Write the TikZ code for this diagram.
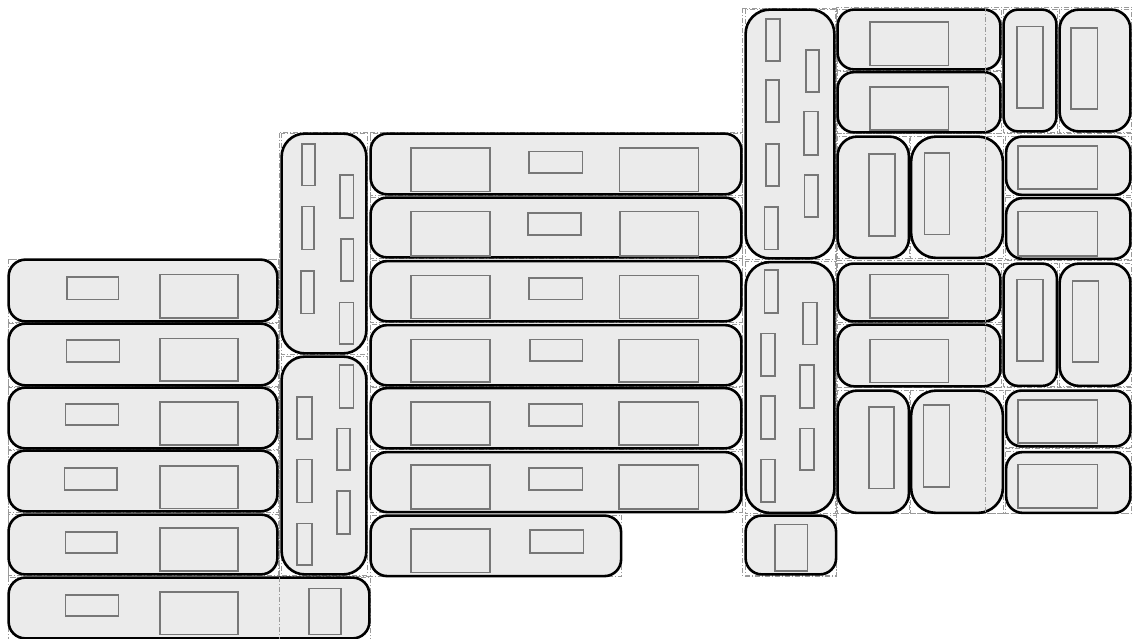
\documentclass[tikz,border=0pt]{standalone}
\definecolor{boxfill}{HTML}{EBEBEB}
\definecolor{innerline}{HTML}{777777}
\definecolor{cellgrey}{HTML}{9A9A9A}
\tikzset{
  cellline/.style={draw=cellgrey, line width=0.8pt, dash pattern=on 5pt off 2pt on 1pt off 2pt},
  boxstyle/.style={draw=black, fill=boxfill, line width=2.6pt},
  innerstyle/.style={draw=innerline, line width=1.6pt},
}
\newcommand\cellpass{%
  \def\myBox##1##2##3##4{\draw[cellline] (##1,##2) rectangle (##3,##4);}%
  \def\myIn##1##2##3##4{}}
\newcommand\boxpass{%
  \def\myBox##1##2##3##4{\pgfmathsetmacro\myRad{0.27*min(##3-##1,##4-##2)}%
    \draw[boxstyle, rounded corners=\myRad pt] (##1+0.6,##2+0.6) rectangle (##3-0.6,##4-0.6);}%
  \def\myIn##1##2##3##4{\draw[innerstyle] (##1,##2) rectangle (##3,##4);}}
\newcommand\allboxes{%
% left column
\myBox{8}{259}{278}{322}\myIn{66.7}{276.7}{118.3}{299.3}\myIn{160}{274.3}{237.7}{317.7}
\myBox{8}{323}{278}{386}\myIn{66.3}{340}{119.3}{362}\myIn{160}{338.3}{237.7}{381}
\myBox{8}{387}{278}{449}\myIn{65.3}{404}{118.3}{425}\myIn{160}{402}{237.7}{445}
\myBox{8}{450}{278}{512}\myIn{64.3}{468}{117}{490}\myIn{160}{465.7}{237.7}{508.3}
\myBox{8}{514}{278}{575}\myIn{65.3}{531.7}{117}{552.7}\myIn{160}{527.7}{237.7}{571}
\myBox{8}{577}{370}{639}\myIn{65.3}{595}{118.3}{616}\myIn{160}{591.7}{237.7}{634.3}\myIn{308.7}{588.3}{340.7}{634.3}
% column 2
\myBox{281}{133}{367}{354}\myIn{301.7}{144}{315}{185.7}\myIn{301.7}{206.7}{314}{249.3}\myIn{300.7}{271}{313.7}{313.3}\myIn{340}{175}{353.3}{218.3}\myIn{340.7}{238.7}{353.3}{280.7}\myIn{339.3}{302.3}{353.3}{344}
\myBox{281}{356}{367}{575}\myIn{339.3}{365}{353.3}{407.7}\myIn{297}{397}{311.7}{439}\myIn{337}{428.3}{350}{470}\myIn{297}{459.3}{311.7}{502.3}\myIn{337}{490.7}{350}{534}\myIn{297}{523.3}{311.7}{565}
% central rows
\myBox{370}{133}{742}{195}\myIn{410.7}{148.3}{490}{191.7}\myIn{529}{151.7}{582.3}{173.3}\myIn{619.3}{148.3}{698.3}{191.7}
\myBox{370}{197}{742}{258}\myIn{410.7}{211.7}{490}{255.7}\myIn{527.7}{213.3}{581}{235}\myIn{620}{211.7}{698.3}{255.7}
\myBox{370}{260.5}{742}{322}\myIn{410.7}{275.3}{490}{318.3}\myIn{529}{277.7}{582.3}{299.3}\myIn{619.3}{275.3}{698.3}{318.3}
\myBox{370}{324.5}{742}{386}\myIn{410.7}{339.3}{490}{382}\myIn{530}{339.3}{582.3}{361}\myIn{618.7}{339.3}{698.3}{382}
\myBox{370}{387.5}{742}{449}\myIn{410.7}{401.7}{490}{445}\myIn{529}{404}{582.3}{425.7}\myIn{618.7}{401.7}{698.3}{445}
\myBox{370}{451.5}{742}{512.7}\myIn{410.7}{465}{490}{508.7}\myIn{529}{467.7}{582.3}{490}\myIn{618.7}{465}{698.3}{508.7}
\myBox{370}{515}{621.7}{576.7}\myIn{410.7}{529}{490}{572.3}\myIn{530}{530}{583.3}{552.7}
% right tall column
\myBox{745}{9}{835}{259}\myIn{765.7}{19}{780}{61}\myIn{805.7}{50}{819}{92.3}\myIn{765.7}{80}{779}{122.3}\myIn{804}{111.7}{817.7}{155}\myIn{765.7}{144}{779}{186}\myIn{804.3}{175}{817.7}{217.3}\myIn{764.3}{207.3}{777.7}{249.3}
\myBox{745}{261.5}{835}{513.5}\myIn{764.3}{270}{777.7}{312.7}\myIn{802.7}{302.3}{816.7}{344.3}\myIn{761}{333.3}{775}{375.7}\myIn{800}{365}{814}{407.7}\myIn{761}{396}{775}{439}\myIn{800}{428.3}{814}{470}\myIn{761}{459.3}{775}{501.7}
\myBox{745}{515}{836.7}{575}\myIn{775}{524.3}{807.3}{571}
% right block
\myBox{837}{9}{1001}{70}\myIn{870}{22.3}{948.3}{65.7}
\myBox{837}{71.5}{1001}{133}\myIn{870}{87.3}{948.3}{130}
\myBox{1003}{9}{1057}{132}\myIn{1016.7}{26.7}{1042.7}{108.3}
\myBox{1059}{9}{1131}{132}\myIn{1071}{28.3}{1097.3}{109.3}
\myBox{837}{136}{909.5}{258.5}\myIn{869}{154}{895}{235.7}
\myBox{910.5}{136}{1003.5}{258.5}\myIn{924.3}{153.3}{949.3}{234.3}
\myBox{1005.5}{136}{1131}{195.5}\myIn{1017.7}{146}{1097.3}{189.3}
\myBox{1005.5}{197.5}{1131}{259.5}\myIn{1017.7}{211.7}{1097.3}{255.7}
\myBox{837}{263}{1001}{322}\myIn{870}{274.3}{948.3}{317.7}
\myBox{837}{324}{1001}{387}\myIn{870}{339.3}{948.3}{382.3}
\myBox{1003}{263}{1057.5}{386.5}\myIn{1016.7}{279.3}{1042.7}{360.7}
\myBox{1059}{263}{1131}{386.5}\myIn{1072.3}{280.7}{1098.3}{361.7}
\myBox{837}{390}{909.5}{513.5}\myIn{869}{406.7}{894}{488.3}
\myBox{910.5}{390}{1003.5}{513.5}\myIn{923.3}{405}{949.3}{486.7}
\myBox{1005.5}{390}{1131}{447}\myIn{1017.7}{400}{1097.3}{442.7}
\myBox{1005.5}{451.5}{1131}{513.5}\myIn{1017.7}{464.3}{1097.3}{507.7}
}
\begin{document}
\begin{tikzpicture}[x=1pt,y=-1pt]
\useasboundingbox (0,0) rectangle (1132,639);
% group outlines (under the boxes)
\draw[cellline] (8,259) rectangle (279,577);
\draw[cellline] (279,132.7) rectangle (370,576);
\draw[cellline] (370,132.7) -- (742.7,132.7);
\draw[cellline] (742.7,8) rectangle (836.7,576);
\draw[cellline] (836.7,7.3) rectangle (1132,513.3);
\draw[cellline] (836.7,133.3) -- (1132,133.3);
\draw[cellline] (836.7,260.7) -- (1132,260.7);
\draw[cellline] (836.7,387.3) -- (1132,387.3);
\draw[cellline] (985,448.3) -- (1132,448.3);
\cellpass\allboxes
\boxpass\allboxes
% divider lines visible over the boxes
\draw[cellline] (279,577) -- (279,639);
\draw[cellline] (985,7.3) -- (985,513.3);
\end{tikzpicture}
\end{document}
